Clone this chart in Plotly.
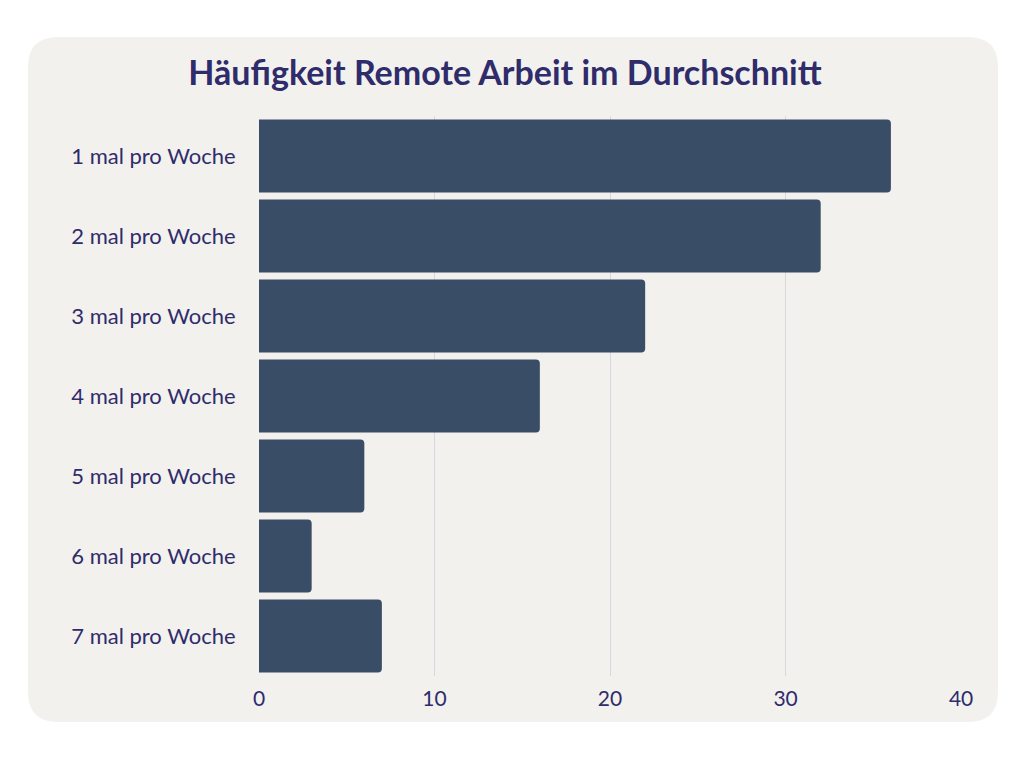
import plotly.graph_objects as go

categories = ["1 mal pro Woche", "2 mal pro Woche", "3 mal pro Woche", "4 mal pro Woche",
              "5 mal pro Woche", "6 mal pro Woche", "7 mal pro Woche"]
values = [36, 32, 22, 16, 6, 3, 7]
x_ticks = [0, 10, 20, 30, 40]

W, H = 1024, 768
OFF = 8
L, R, T, B = 259 - OFF, 62 + OFF, 116 - OFF, 92 + OFF
pw, ph = W - L - R, H - T - B
def px(x): return (x - OFF - L) / pw
def py(y): return (H - B - (y - OFF)) / ph
x0, x1, y0, y1 = px(28), px(998), py(722), py(37)
rx, ry = 30 / pw, 30 / ph
path = (f"M {x0+rx},{y0} L {x1-rx},{y0} Q {x1},{y0} {x1},{y0+ry} L {x1},{y1-ry} "
        f"Q {x1},{y1} {x1-rx},{y1} L {x0+rx},{y1} Q {x0},{y1} {x0},{y1-ry} "
        f"L {x0},{y0+ry} Q {x0},{y0} {x0+rx},{y0} Z")

txt = "#2e2c6b"
fig = go.Figure(go.Bar(x=values, y=categories, orientation="h",
                       marker=dict(color="#3a4d66", line=dict(width=0))))
fig.update_layout(
    width=W, height=H, margin=dict(l=L, r=R, t=T, b=B),
    paper_bgcolor="white", plot_bgcolor="rgba(0,0,0,0)",
    bargap=0.09, barcornerradius=4,
    font=dict(family="Lato, Open Sans, sans-serif", color=txt, size=22),
    title=dict(text="<b>Häufigkeit Remote Arbeit im Durchschnitt</b>", x=px(505), xanchor="center",
               xref="paper", y=1 - (73 - OFF) / H, yanchor="middle", font=dict(size=34, color=txt)),
    xaxis=dict(range=[0, 40.05], tickvals=x_ticks, showgrid=True, gridcolor="#d9d6de",
               zeroline=False, showline=False, ticks="outside", ticklen=4, tickcolor="rgba(0,0,0,0)",
               tickfont=dict(size=21, color=txt)),
    yaxis=dict(categoryorder="array", categoryarray=categories[::-1], showgrid=False,
               ticks="outside", ticklen=18, tickcolor="rgba(0,0,0,0)", tickfont=dict(size=22, color=txt)),
    shapes=[dict(type="path", path=path, xref="paper", yref="paper",
                 fillcolor="#f3f1ee", line=dict(width=0), layer="below")],
    showlegend=False,
)
fig.write_html("out.html")
